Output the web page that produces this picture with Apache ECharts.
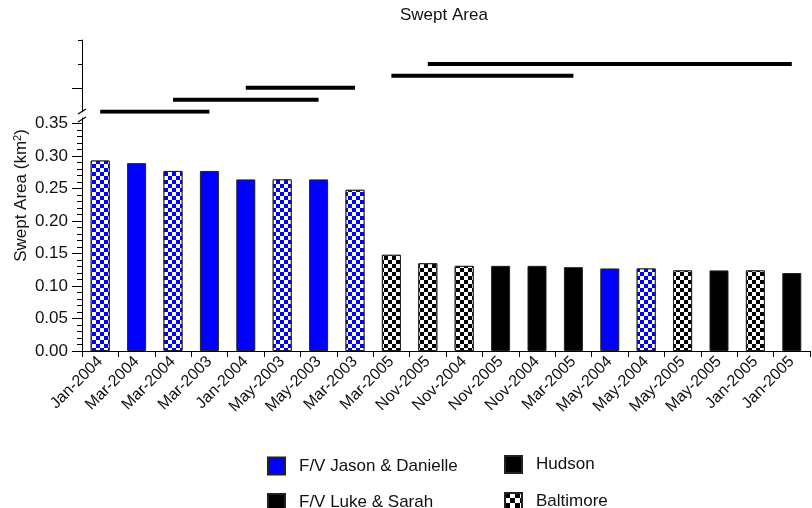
<!DOCTYPE html>
<html>
<head>
<meta charset="utf-8">
<script src="https://cdn.jsdelivr.net/npm/echarts@6/dist/echarts.min.js"></script>
<style>
html,body{margin:0;padding:0;background:#fff;}
#chart{width:812px;height:508px;}
</style>
</head>
<body>
<div id="chart"></div>
<script>
// ---- data ----
const categories = ['Jan-2004','Mar-2004','Mar-2004','Mar-2003','Jan-2004','May-2003','May-2003','Mar-2003','Mar-2005','Nov-2005','Nov-2004','Nov-2005','Nov-2004','Mar-2005','May-2004','May-2004','May-2005','May-2005','Jan-2005','Jan-2005'];
const sweptArea = [0.293,0.289,0.277,0.277,0.264,0.264,0.264,0.248,0.148,0.135,0.131,0.131,0.131,0.129,0.127,0.127,0.124,0.124,0.124,0.120];
const vessel = ['F/V Jason & Danielle','F/V Jason & Danielle','F/V Jason & Danielle','F/V Jason & Danielle','F/V Jason & Danielle','F/V Jason & Danielle','F/V Jason & Danielle','F/V Jason & Danielle','F/V Luke & Sarah','F/V Luke & Sarah','F/V Luke & Sarah','F/V Luke & Sarah','F/V Luke & Sarah','F/V Luke & Sarah','F/V Jason & Danielle','F/V Jason & Danielle','F/V Luke & Sarah','F/V Luke & Sarah','F/V Luke & Sarah','F/V Luke & Sarah'];
const port = ['Baltimore','Hudson','Baltimore','Hudson','Hudson','Baltimore','Hudson','Baltimore','Baltimore','Baltimore','Baltimore','Hudson','Hudson','Hudson','Hudson','Baltimore','Baltimore','Hudson','Baltimore','Hudson'];
// significance groups (bar index ranges) and their stacking level
const sigStart = [0,2,4,8,9];
const sigEnd = [3,6,7,13,19];
const sigLevel = [0,1,2,3,4];
const legendNames = ['F/V Jason & Danielle','F/V Luke & Sarah','Hudson','Baltimore'];

// ---- styles ----
const FONT = '"Liberation Sans", Arial, Helvetica, sans-serif';
const vesselColor = {'F/V Jason & Danielle':'#0000ff','F/V Luke & Sarah':'#000000'};
function checker(n){
  return {symbol:'rect', symbolSize:1, dashArrayX:[[n,n],[0,n,n,0]], dashArrayY:[n,0], rotation:0, color:'#ffffff', symbolKeepAspect:false};
}

const barData = sweptArea.map((v,i)=>{
  const st = {color: vesselColor[vessel[i]], borderColor:'#222', borderWidth:1};
  if (port[i]==='Baltimore') st.decal = checker(4);
  return {value:v, itemStyle:st};
});

const sigSeries = sigStart.map((s,k)=>({
  type:'line', name:'sig'+k, xAxisIndex:1, yAxisIndex:1,
  data: categories.map((c,i)=> (i>=s && i<=sigEnd[k]) ? sigLevel[k] : null),
  showSymbol:false, symbol:'none', silent:true,
  lineStyle:{color:'#000', width:4, cap:'butt'},
  connectNulls:false
}));

const legendPos = [[267,456.5],[267,493],[504,455],[504,492]];
const legends = legendNames.map((n,k)=>({
  data:[{name:n}], orient:'horizontal', left:legendPos[k][0], top:legendPos[k][1], padding:0,
  itemWidth:17, itemHeight:17, icon:'rect', selectedMode:false,
  textStyle:{fontFamily:FONT, fontSize:17, color:'#111', padding:[0,0,0,9]}
}));

const chart = echarts.init(document.getElementById('chart'), null, {renderer:'canvas'});
chart.setOption({
  animation:false,
  backgroundColor:'#fff',
  textStyle:{fontFamily:FONT},
  title:{text:'Swept Area', left:400, top:7, padding:0,
    textStyle:{fontFamily:FONT, fontSize:17, fontWeight:'normal', color:'#111'}},
  grid:[
    {left:82, right:2, top:123.5, bottom:157},
    {left:82, right:2, top:40, bottom:396.3},
    {left:82, right:2, top:40, bottom:157}
  ],
  legend:legends,
  xAxis:[
    {type:'category', gridIndex:0, data:categories, boundaryGap:true,
     axisLine:{lineStyle:{color:'#000', width:1}},
     axisTick:{show:true, interval:0, length:6, lineStyle:{color:'#000'}},
     axisLabel:{interval:0, rotate:45, margin:8, fontFamily:FONT, fontSize:16, color:'#111'}},
    {type:'category', gridIndex:1, data:categories, boundaryGap:true, show:false},
    {type:'category', gridIndex:2, data:categories, boundaryGap:true, show:false}
  ],
  yAxis:[
    {type:'value', gridIndex:0, min:0, max:0.35, interval:0.05, position:'left',
     axisLine:{show:true, lineStyle:{color:'#000'}},
     axisTick:{show:true, length:10, lineStyle:{color:'#000'}},
     minorTick:{show:true, splitNumber:5, length:5, lineStyle:{color:'#000'}},
     splitLine:{show:false},
     axisLabel:{margin:14, fontFamily:FONT, fontSize:17, color:'#111',
       formatter:v=>v.toFixed(2)}},
    {type:'value', gridIndex:1, min:0, max:6, interval:2, position:'left',
     axisLine:{show:true, lineStyle:{color:'#000'}},
     axisTick:{show:true, length:10, customValues:[2], lineStyle:{color:'#000'}},
     axisLabel:{show:false}, splitLine:{show:false}},
    {type:'value', gridIndex:1, min:0, max:6, interval:2, position:'left', offset:0,
     axisLine:{show:false},
     axisTick:{show:true, length:4, customValues:[4,6], lineStyle:{color:'#000'}},
     axisLabel:{show:false}, splitLine:{show:false}},
    {type:'value', gridIndex:2, min:0, max:1, show:true, position:'left',
     axisLine:{show:false}, axisTick:{show:false}, axisLabel:{show:false}, splitLine:{show:false},
     name:'Swept Area (km{sup|2})', nameLocation:'middle', nameGap:51, nameRotate:90,
     nameTextStyle:{fontFamily:FONT, fontSize:17, color:'#111',
       rich:{sup:{fontFamily:FONT, fontSize:11, color:'#111', verticalAlign:'top', padding:[0,0,8,0]}}}}
  ],
  series:[
    {type:'bar', name:'Swept Area', xAxisIndex:0, yAxisIndex:0, data:barData, barWidth:19},
    ...sigSeries,
    {type:'bar', name:legendNames[0], xAxisIndex:2, yAxisIndex:3, data:[],
     itemStyle:{color:'#0000ff', borderColor:'#222', borderWidth:1}},
    {type:'bar', name:legendNames[1], xAxisIndex:2, yAxisIndex:3, data:[],
     itemStyle:{color:'#000', borderColor:'#222', borderWidth:1}},
    {type:'bar', name:legendNames[2], xAxisIndex:2, yAxisIndex:3, data:[],
     itemStyle:{color:'#000', borderColor:'#222', borderWidth:1}},
    {type:'bar', name:legendNames[3], xAxisIndex:2, yAxisIndex:3, data:[],
     itemStyle:{color:'#000', borderColor:'#222', borderWidth:1, decal:checker(5)}}
  ],
  graphic:[
    {type:'line', shape:{x1:78, y1:114, x2:86, y2:109}, style:{stroke:'#000', lineWidth:1.2}, z:100},
    {type:'line', shape:{x1:78, y1:122, x2:86, y2:117}, style:{stroke:'#000', lineWidth:1.2}, z:100},
    {type:'line', shape:{x1:82.5, y1:117.5, x2:82.5, y2:124}, style:{stroke:'#000', lineWidth:1}, z:100}
  ]
});
</script>
</body>
</html>
